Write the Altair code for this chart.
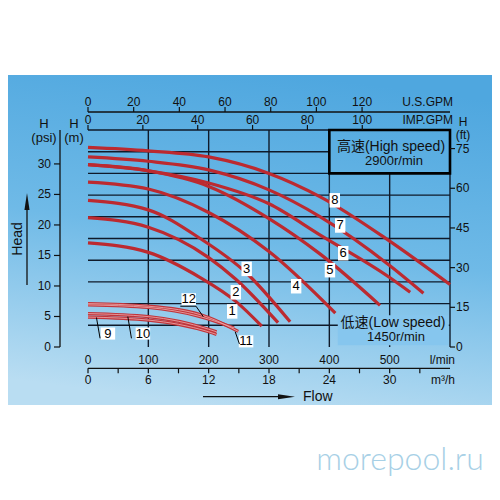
import altair as alt
import pandas as pd

# ---------------- data (Q in l/min, H in m) ----------------
c1_q = [0, 100, 186, 246, 288]
c1_h = [12.0, 10.9, 8.0, 5.2, 2.4]
c2_q = [0, 100, 200, 245, 315]
c2_h = [14.9, 13.8, 10.3, 7.8, 2.8]
c3_q = [0, 100, 186, 263, 335]
c3_h = [16.9, 15.8, 12.5, 8.5, 2.9]
c4_q = [0, 100, 200, 300, 410]
c4_h = [19.0, 18.2, 15.5, 11.0, 3.9]
c5_q = [0, 100, 200, 300, 385, 484]
c5_h = [21.0, 20.3, 18.5, 14.8, 10.7, 4.8]
c6_q = [0, 100, 200, 300, 385, 500, 534]
c6_h = [21.0, 20.3, 18.9, 16.5, 12.9, 8.0, 6.3]
c7_q = [0, 100, 200, 300, 385, 500, 556]
c7_h = [21.9, 21.4, 20.4, 18.1, 15.0, 9.4, 6.2]
c8_q = [0, 100, 200, 300, 385, 500, 600]
c8_h = [23.0, 22.6, 21.9, 20.0, 17.3, 12.2, 7.2]

c9_q = [0, 100, 200, 213]
c9_h = [3.45, 3.1, 1.75, 1.45]
c10_q = [0, 100, 200, 213]
c10_h = [3.85, 3.5, 2.05, 1.75]
c11_q = [0, 100, 200, 249]
c11_h = [5.0, 4.7, 3.4, 1.8]
c12_q = [0, 100, 186, 242]
c12_h = [4.85, 4.55, 3.5, 2.2]

high_names = ["1", "2", "3", "4", "5", "6", "7", "8"]
low_names = ["9", "10", "11", "12"]

lab_hi_names = ["1", "2", "3", "4", "5", "6", "7", "8"]
lab_hi_q = [239, 245, 263, 345, 401, 423, 418, 409]
lab_hi_h = [4.1, 6.3, 9.0, 7.0, 8.85, 10.8, 14.0, 16.9]

lab_lo_names = ["9", "10", "11", "12"]
lab_lo_q = [33, 91, 262, 167]
lab_lo_h = [1.55, 1.55, 0.65, 5.5]

# axis tick values
lmin_ticks = list(range(0, 601, 50))
lmin_labels = [0, 100, 200, 300, 400, 500]
m_labels = [0, 5, 10, 15, 20]
m3h_ticks = list(range(0, 34, 3))
m3h_labels = [0, 6, 12, 18, 24, 30]
usgpm_labels = [0, 20, 40, 60, 80, 100, 120]
impgpm_labels = [0, 20, 40, 60, 80, 100]
psi_labels = [0, 5, 10, 15, 20, 25, 30]
ft_labels = [0, 15, 30, 45, 60, 75]

hgrid_h = [2.5, 5, 7.5, 10, 12.5, 15, 17.5, 20, 22.5, 25]
hgrid_end = [600, 600, 600, 600, 600, 600, 600, 600, 400, 600]
vgrid_q = [100, 200, 300, 400, 500, 600]
vgrid_top = [25, 25, 25, 25, 20, 25]

# unit conversions to l/min and m
M3H = 1000 / 60
USG = 3.78541
IMPG = 4.54609
PSI = 0.70307
FT = 0.3048

FONT = "Liberation Sans"
CJK = "Liberation Sans, Noto Sans CJK SC"
INK = "#111111"
GRID = "#0f1a2a"

XS = alt.Scale(domain=[0, 600], nice=False, zero=False)
YS = alt.Scale(domain=[0, 25], nice=False, zero=False)
XAX = alt.Axis(values=lmin_ticks, title=None, grid=False, tickSize=5, tickColor=INK,
               domainColor=INK, domainWidth=1.3, tickWidth=1.2, labels=False)
YAX = alt.Axis(values=m_labels, title=None, grid=False, tickSize=5, tickColor=INK,
               domainColor=INK, domainWidth=1.3, tickWidth=1.2, labelFont=FONT, labelFontSize=12,
               labelColor=INK, labelPadding=4)


def X(f):
    return alt.X(f, type="quantitative", scale=XS, axis=XAX)


def Y(f):
    return alt.Y(f, type="quantitative", scale=YS, axis=YAX)


one = pd.DataFrame({"a": [0]})


def curve_df(names, qs_list, hs_list):
    rows = []
    for n, qs, hs in zip(names, qs_list, hs_list):
        for q, h in zip(qs, hs):
            rows.append({"curve": n, "Q": q, "H": h})
    return pd.DataFrame(rows)


hi_df = curve_df(high_names, [c1_q, c2_q, c3_q, c4_q, c5_q, c6_q, c7_q, c8_q],
                 [c1_h, c2_h, c3_h, c4_h, c5_h, c6_h, c7_h, c8_h])
lo_df = curve_df(low_names, [c9_q, c10_q, c11_q, c12_q], [c9_h, c10_h, c11_h, c12_h])

layers = []

# background panel
bg = alt.Chart(one).mark_rect(
    fill=alt.Gradient(gradient="linear",
                      stops=[alt.GradientStop(color="#4fa7df", offset=0),
                             alt.GradientStop(color="#6fbae7", offset=0.5),
                             alt.GradientStop(color="#b9ddf2", offset=1)],
                      x1=0.6, y1=0, x2=0.4, y2=1)
).encode(x=alt.value(-80), x2=alt.value(404), y=alt.value(-55), y2=alt.value(275))
layers.append(bg)

# grid lines
hg = alt.Chart(pd.DataFrame({"H": hgrid_h, "q0": [0] * len(hgrid_h), "q1": hgrid_end})).mark_rule(
    color=GRID, strokeWidth=1.4).encode(x=X("q0"), x2="q1", y=Y("H"))
vg = alt.Chart(pd.DataFrame({"Q": vgrid_q, "h0": [0] * len(vgrid_q), "h1": vgrid_top})).mark_rule(
    color=GRID, strokeWidth=1.4).encode(x=X("Q"), y=Y("h0"), y2="h1")
layers += [hg, vg]

# low speed box (covers the grid)
lowbox = alt.Chart(pd.DataFrame({"q1": [414], "q2": [598], "h1": [0.2], "h2": [3.66]})).mark_rect(
    fill="#86c6ee").encode(x=X("q1"), x2="q2", y=Y("h1"), y2="h2")
layers.append(lowbox)

# high speed box border
hibox = alt.Chart(pd.DataFrame({"q1": [400], "q2": [600], "h1": [20], "h2": [25]})).mark_rect(
    fill=None, stroke="#000000", strokeWidth=2.6).encode(x=X("q1"), x2="q2", y=Y("h1"), y2="h2")
layers.append(hibox)

# curves
hi_lines = alt.Chart(hi_df).mark_line(color="#bc2a30", strokeWidth=3.2, interpolate="monotone").encode(
    x=X("Q"), y=Y("H"), detail="curve:N")
lo_lines = alt.Chart(lo_df).mark_line(color="#c0353b", strokeWidth=3.2, interpolate="monotone").encode(
    x=X("Q"), y=Y("H"), detail="curve:N")
lo_hl = alt.Chart(lo_df).mark_line(color="#e9a0a3", strokeWidth=0.9, interpolate="monotone").encode(
    x=X("Q"), y=Y("H"), detail="curve:N")
layers += [hi_lines, lo_lines, lo_hl]

# curve labels high speed
hl_df = pd.DataFrame({"name": lab_hi_names, "Q": lab_hi_q, "H": lab_hi_h})
box_shape = "M-0.72,-1L0.72,-1L0.72,1L-0.72,1Z"
layers.append(alt.Chart(hl_df).mark_point(shape=box_shape, filled=True, fill="white", opacity=1,
                                          size=210, strokeWidth=0).encode(x=X("Q"), y=Y("H")))
layers.append(alt.Chart(hl_df).mark_text(font=FONT, fontSize=13, color="#000").encode(
    x=X("Q"), y=Y("H"), text="name"))

# low speed label leaders (l/min, m)
leaders = pd.DataFrame({
    "q0": [20, 72, 251, 153, 179],
    "h0": [1.0, 1.0, 0.35, 4.7, 4.7],
    "q1": [14, 66, 244, 179, 191],
    "h1": [3.4, 3.5, 1.75, 4.7, 3.5],
})
ll_df = pd.DataFrame({"name": lab_lo_names, "Q": lab_lo_q, "H": lab_lo_h})
wide_shape = "M-0.9,-0.75L0.9,-0.75L0.9,0.75L-0.9,0.75Z"
layers.append(alt.Chart(ll_df).mark_point(shape=wide_shape, filled=True, fill="white", opacity=1,
                                          size=260, strokeWidth=0).encode(x=X("Q"), y=Y("H")))
layers.append(alt.Chart(leaders).mark_rule(color="#000", strokeWidth=1).encode(
    x=X("q0"), x2="q1", y=Y("h0"), y2="h1"))
layers.append(alt.Chart(ll_df).mark_text(font=FONT, fontSize=13, color="#000").encode(
    x=X("Q"), y=Y("H"), text="name"))

# ---- axis labels ----
# l/min labels (bottom main axis)
lml = pd.DataFrame({"Q": lmin_labels, "t": [str(v) for v in lmin_labels]})
layers.append(alt.Chart(lml).mark_text(font=FONT, fontSize=12, color=INK, baseline="middle").encode(
    x=X("Q"), y=alt.value(230), text="t"))

# m3/h axis (bottom, offset)
M3Y = 238.3
layers.append(alt.Chart(pd.DataFrame({"q0": [0], "q1": [600]})).mark_rule(color=INK, strokeWidth=1.3).encode(
    x=X("q0"), x2="q1", y=alt.value(M3Y)))
m3t = pd.DataFrame({"Q": [v * M3H for v in m3h_ticks]})
layers.append(alt.Chart(m3t).mark_rule(color=INK, strokeWidth=1.2).encode(
    x=X("Q"), y=alt.value(M3Y), y2=alt.value(M3Y + 5)))
m3l = pd.DataFrame({"Q": [v * M3H for v in m3h_labels], "t": [str(v) for v in m3h_labels]})
layers.append(alt.Chart(m3l).mark_text(font=FONT, fontSize=12, color=INK, baseline="middle").encode(
    x=X("Q"), y=alt.value(M3Y + 12), text="t"))

# US GPM axis (top, offset)
USY = -18
layers.append(alt.Chart(pd.DataFrame({"q0": [0], "q1": [600]})).mark_rule(color=INK, strokeWidth=1.3).encode(
    x=X("q0"), x2="q1", y=alt.value(USY)))
usd = pd.DataFrame({"Q": [v * USG for v in usgpm_labels], "t": [str(v) for v in usgpm_labels]})
layers.append(alt.Chart(usd).mark_rule(color=INK, strokeWidth=1.2).encode(
    x=X("Q"), y=alt.value(USY - 5), y2=alt.value(USY)))
layers.append(alt.Chart(usd).mark_text(font=FONT, fontSize=12, color=INK, baseline="middle").encode(
    x=X("Q"), y=alt.value(USY - 10), text="t"))

# IMP GPM axis (top)
impd = pd.DataFrame({"Q": [v * IMPG for v in impgpm_labels], "t": [str(v) for v in impgpm_labels]})
layers.append(alt.Chart(impd).mark_rule(color=INK, strokeWidth=1.2).encode(
    x=X("Q"), y=alt.value(-5), y2=alt.value(0)))
layers.append(alt.Chart(impd).mark_text(font=FONT, fontSize=12, color=INK, baseline="middle").encode(
    x=X("Q"), y=alt.value(-10), text="t"))

# psi axis (left, offset)
PX = -28
layers.append(alt.Chart(pd.DataFrame({"h0": [0], "h1": [25]})).mark_rule(color=INK, strokeWidth=1.3).encode(
    x=alt.value(PX), y=Y("h0"), y2="h1"))
psd = pd.DataFrame({"H": [v * PSI for v in psi_labels], "t": [str(v) for v in psi_labels]})
layers.append(alt.Chart(psd).mark_rule(color=INK, strokeWidth=1.2).encode(
    x=alt.value(PX - 6), x2=alt.value(PX), y=Y("H")))
layers.append(alt.Chart(psd).mark_text(font=FONT, fontSize=12, color=INK, align="right", baseline="middle").encode(
    x=alt.value(PX - 9), y=Y("H"), text="t"))

# ft axis (right)
FX = 362
ftd = pd.DataFrame({"H": [v * FT for v in ft_labels], "t": [str(v) for v in ft_labels]})
layers.append(alt.Chart(ftd).mark_rule(color=INK, strokeWidth=1.2).encode(
    x=alt.value(FX), x2=alt.value(FX + 5), y=Y("H")))
layers.append(alt.Chart(ftd).mark_text(font=FONT, fontSize=12, color=INK, align="left", baseline="middle").encode(
    x=alt.value(FX + 6), y=Y("H"), text="t"))

# ---- static texts ----
def txt(s, x, y, size=12, align="center", angle=0, color=INK, font=FONT, weight="normal"):
    kw = dict(text=s, font=font, fontSize=size, color=color, align=align, baseline="middle",
              fontWeight=weight)
    if angle:
        kw["angle"] = angle
    return alt.Chart(one).mark_text(**kw).encode(x=alt.value(x), y=alt.value(y))


layers += [
    txt("H", -44, -6, 13), txt("(psi)", -44, 8, 13),
    txt("H", -14, -6, 13), txt("(m)", -14, 8, 13),
    txt("H", 375, -8, 12), txt("(ft)", 375, 5, 12),
    txt("U.S.GPM", 365, -28, 12, align="right"),
    txt("IMP.GPM", 365, -10, 12, align="right"),
    txt("l/min", 367, 230, 12, align="right"),
    txt("m³/h", 367, 250, 12, align="right"),
    txt("高速(High speed)", 303, 17, 14, font=CJK),
    txt("2900r/min", 306, 31, 13),
    txt("低速(Low speed)", 305, 193, 14, font=CJK),
    txt("1450r/min", 308, 207, 13),
    txt("Head", -70, 109, 14, angle=270),
    txt("Flow", 215, 267, 14, align="left"),
    txt("morepool.ru", 312, 330, 32, color="#a7d0e6", font="Lato", weight=300),
]

# arrows
layers.append(alt.Chart(one).mark_rule(color=INK, strokeWidth=1.3).encode(
    x=alt.value(-61), y=alt.value(155), y2=alt.value(75)))
layers.append(alt.Chart(one).mark_point(shape="M0,-1L0.3,1L-0.3,1Z", filled=True, fill=INK, opacity=1,
                                        size=289, strokeWidth=0).encode(x=alt.value(-61), y=alt.value(71.5)))
layers.append(alt.Chart(one).mark_rule(color=INK, strokeWidth=1.3).encode(
    x=alt.value(115), x2=alt.value(192), y=alt.value(266.7)))
layers.append(alt.Chart(one).mark_point(shape="M1,0L-1,0.3L-1,-0.3Z", filled=True, fill=INK, opacity=1,
                                        size=289, strokeWidth=0).encode(x=alt.value(198.5), y=alt.value(266.7)))

chart = alt.layer(*layers).properties(
    width=362, height=217, autosize="none",
    padding={"left": 80, "top": 122, "right": 42, "bottom": 145},
    background="white",
).configure_view(stroke=None)

chart.save("out.html", embed_options={"renderer": "svg", "actions": False})
